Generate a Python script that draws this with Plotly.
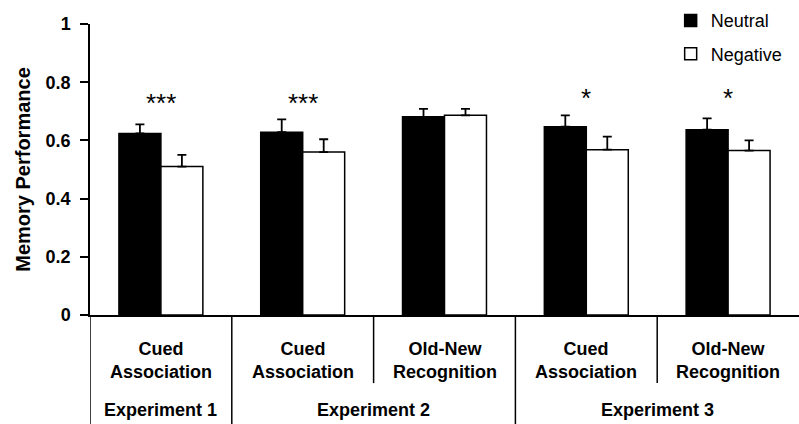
import plotly.graph_objects as go

categories = ["Cued<br>Association", "Cued<br>Association", "Old-New<br>Recognition",
              "Cued<br>Association", "Old-New<br>Recognition"]
neutral = [0.624, 0.628, 0.681, 0.647, 0.637]
neutral_err = [0.031, 0.044, 0.027, 0.039, 0.039]
negative = [0.510, 0.560, 0.686, 0.568, 0.565]
negative_err = [0.040, 0.044, 0.022, 0.045, 0.035]
significance = ["***", "***", "", "*", "*"]
experiments = ["Experiment 1", "Experiment 2", "Experiment 3"]
experiment_spans = [(0, 0), (1, 2), (3, 4)]
y_ticks = [0, 0.2, 0.4, 0.6, 0.8, 1]

FONT = "Arial, Liberation Sans, sans-serif"
xs = list(range(len(categories)))

fig = go.Figure()
fig.add_trace(go.Bar(
    x=xs, y=neutral, name="Neutral",
    marker=dict(color="black", line=dict(color="black", width=1.5)),
    error_y=dict(type="data", array=neutral_err, arrayminus=[0]*5, symmetric=False,
                 color="black", thickness=1.8, width=4.5),
    legendgroup="a",
))
fig.add_trace(go.Bar(
    x=xs, y=negative, name="Negative",
    marker=dict(color="white", line=dict(color="black", width=1.5)),
    error_y=dict(type="data", array=negative_err, arrayminus=[0]*5, symmetric=False,
                 color="black", thickness=1.8, width=4.5),
    legendgroup="b",
))

annotations = []
for i, s in enumerate(significance):
    if s:
        annotations.append(dict(x=i, y=(0.73 if len(s) > 1 else 0.745), xref="x", yref="y",
                                text=s, showarrow=False,
                                font=dict(family=FONT, size=26, color="black"),
                                yanchor="middle"))
# category labels
for i, c in enumerate(categories):
    annotations.append(dict(x=i, y=-0.155, xref="x", yref="paper", text="<b>" + c + "</b>",
                            showarrow=False, font=dict(family=FONT, size=18, color="black"),
                            yanchor="middle", align="center"))
# experiment labels
for name, (a, b) in zip(experiments, experiment_spans):
    annotations.append(dict(x=(a + b) / 2, y=-0.326, xref="x", yref="paper",
                            text="<b>" + name + "</b>", showarrow=False,
                            font=dict(family=FONT, size=18, color="black"), yanchor="middle"))

shapes = []
exp_bounds = [-0.5] + [b + 0.5 for (_, b) in experiment_spans]
for k in range(len(categories)):
    xpos = k - 0.5
    full = xpos in exp_bounds
    shapes.append(dict(type="line", xref="x", yref="paper", x0=xpos, x1=xpos,
                       y0=0, y1=(-0.40 if full else -0.234),
                       line=dict(color="black", width=1.5)))

fig.update_layout(
    width=799, height=424,
    margin=dict(l=90, r=0, t=24, b=109),
    plot_bgcolor="white", paper_bgcolor="white",
    barmode="group", bargap=0.408, bargroupgap=0,
    showlegend=True,
    legend=dict(x=0.819, y=1.075, xanchor="left", yanchor="top",
                font=dict(family=FONT, size=18, color="black"),
                traceorder="grouped", tracegroupgap=7, bgcolor="rgba(0,0,0,0)"),
    xaxis=dict(range=[-0.5, 4.5], showticklabels=False, ticks="", showgrid=False,
               showline=True, linecolor="black", linewidth=1.5, zeroline=False),
    yaxis=dict(range=[0, 1], tickvals=y_ticks, ticktext=[f"{v:g}" for v in y_ticks],
               ticks="outside", ticklen=8, tickwidth=1.5, tickcolor="black",
               ticklabelstandoff=6,
               showline=True, linecolor="black", linewidth=1.5, showgrid=False, zeroline=False,
               tickfont=dict(family=FONT, size=18, color="black", weight="bold"),
               title=dict(text="Memory Performance", standoff=10,
                          font=dict(family=FONT, size=20, color="black", weight="bold"))),
    annotations=annotations, shapes=shapes,
)

fig.write_html("out.html", config={"displayModeBar": False},
               post_script="document.body.style.margin='0px';")
